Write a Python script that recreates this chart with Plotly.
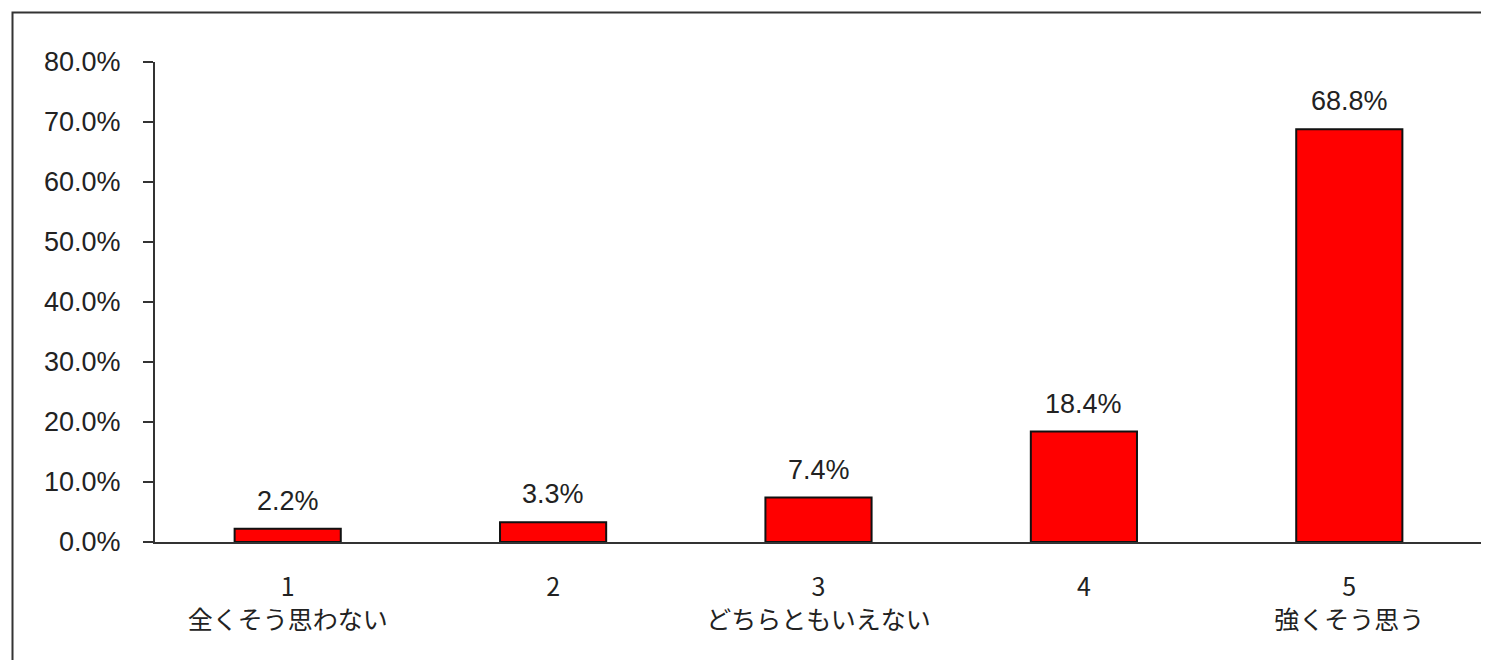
import plotly.graph_objects as go

categories = ["1<br>全くそう思わない", "2<br> ", "3<br>どちらともいえない", "4<br> ", "5<br>強くそう思う"]
values = [2.2, 3.3, 7.4, 18.4, 68.8]
value_labels = ["2.2%", "3.3%", "7.4%", "18.4%", "68.8%"]
y_ticks = [0, 10, 20, 30, 40, 50, 60, 70, 80]
y_ticktext = ["0.0%", "10.0%", "20.0%", "30.0%", "40.0%", "50.0%", "60.0%", "70.0%", "80.0%"]

FONT = "Liberation Sans, Arial, Noto Sans CJK JP"
TXT = "#222222"

fig = go.Figure()
fig.add_trace(go.Bar(
    x=categories, y=values, width=0.4,
    marker=dict(color="#FF0000", line=dict(color="#111111", width=2)),
    hoverinfo="skip",
))

for c, v, t in zip(categories, values, value_labels):
    fig.add_annotation(x=c, y=v, text=t, showarrow=False, yanchor="bottom",
                       yshift=11, font=dict(family=FONT, size=27, color=TXT))

# page has an 8px body margin, so the figure is 8px smaller and everything shifted
W, H = 1481, 652
L, R, T, B = 147, 7, 54, 118
pw, ph = W - L - R, H - T - B

# outer frame
fig.add_shape(type="rect", xref="paper", yref="paper",
              x0=(4.5 - L) / pw, x1=1 + 50 / pw,
              y0=-(B + 50) / ph, y1=1 + (T - 4.5) / ph,
              line=dict(color="#333333", width=2), fillcolor="rgba(0,0,0,0)", layer="below")

fig.update_layout(
    width=W, height=H,
    margin=dict(l=L, r=R, t=T, b=B),
    paper_bgcolor="white", plot_bgcolor="white",
    showlegend=False,
    font=dict(family=FONT, size=22, color=TXT),
    xaxis=dict(
        type="category", range=[-0.5, 4.5],
        showline=True, linecolor="#333333", linewidth=2,
        ticks="", showgrid=False, zeroline=False,
        tickfont=dict(family="Noto Sans CJK JP, Liberation Sans", size=25, color=TXT),
        ticklabelstandoff=22,
    ),
    yaxis=dict(
        range=[0, 80], tickvals=y_ticks, ticktext=y_ticktext,
        showline=True, linecolor="#333333", linewidth=2,
        ticks="outside", ticklen=10, tickwidth=2, tickcolor="#333333",
        showgrid=False, zeroline=False,
        tickfont=dict(family=FONT, size=27, color=TXT),
        ticklabelstandoff=17,
    ),
)

fig.write_html("out.html")
